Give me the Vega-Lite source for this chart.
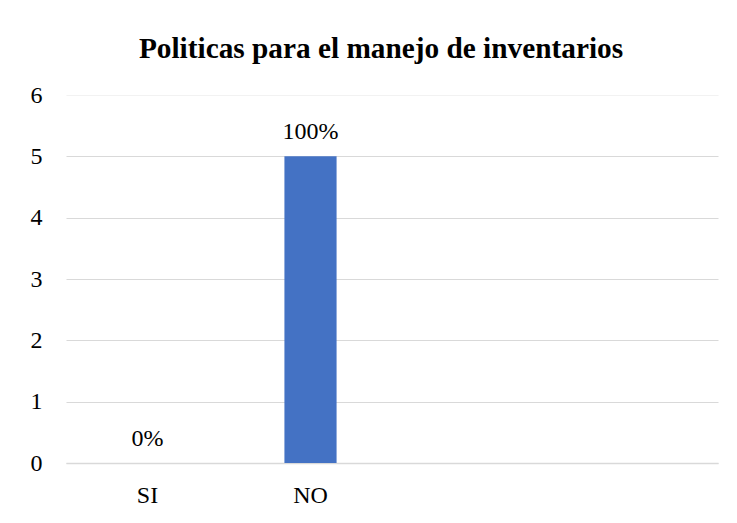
{
  "$schema": "https://vega.github.io/schema/vega-lite/v6.json",
  "width": 652,
  "height": 368,
  "autosize": {"type": "none"},
  "padding": {"left": 66, "top": 95, "right": 19, "bottom": 60},
  "background": "white",
  "title": {
    "text": "Politicas para el manejo de inventarios",
    "font": "Liberation Serif",
    "fontSize": 29.3,
    "fontWeight": "bold",
    "color": "#000000",
    "anchor": "middle",
    "baseline": "alphabetic",
    "dx": -11,
    "offset": -4
  },
  "config": {
    "view": {"stroke": null},
    "axis": {
      "labelFont": "Liberation Serif",
      "labelFontSize": 24,
      "labelColor": "#000000",
      "ticks": false,
      "domain": false,
      "title": null
    }
  },
  "data": {
    "values": [
      {"respuesta": "SI", "valor": 0, "etiqueta": "0%"},
      {"respuesta": "NO", "valor": 5, "etiqueta": "100%"}
    ]
  },
  "encoding": {
    "x": {
      "field": "respuesta",
      "type": "nominal",
      "sort": null,
      "scale": {"domain": ["SI", "NO", "c3", "c4"], "paddingInner": 0.68, "paddingOuter": 0.34},
      "axis": {
        "labelFont": "Liberation Serif",
        "labelFontSize": 24,
        "labelAngle": 0,
        "labelPadding": 20,
        "labelExpr": "datum.value == 'SI' || datum.value == 'NO' ? datum.label : ''",
        "grid": false,
        "domain": true,
        "domainColor": "#d9d9d9",
        "domainWidth": 1.5
      }
    },
    "y": {
      "field": "valor",
      "type": "quantitative",
      "scale": {"domain": [0, 6]},
      "axis": {
        "labelFont": "Liberation Serif",
        "labelFontSize": 24,
        "values": [0, 1, 2, 3, 4, 5, 6],
        "labelPadding": 24,
        "grid": true,
        "gridColor": {"condition": {"test": "datum.value == 6", "value": "#f2f2f2"}, "value": "#d9d9d9"},
        "gridWidth": 1.2
      }
    }
  },
  "layer": [
    {"mark": {"type": "bar", "color": "#4472C4"}},
    {
      "mark": {"type": "text", "font": "Liberation Serif", "fontSize": 24, "color": "#000000", "baseline": "alphabetic", "dy": -17},
      "encoding": {"text": {"field": "etiqueta"}}
    }
  ]
}
